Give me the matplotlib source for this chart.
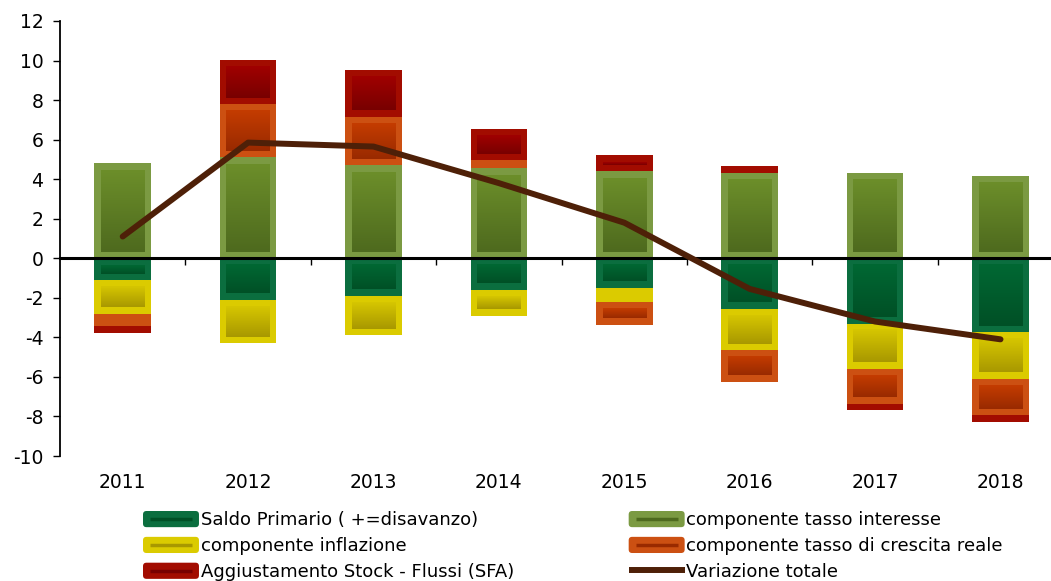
import matplotlib
matplotlib.use("Agg")
import matplotlib.pyplot as plt
import numpy as np
from matplotlib.colors import LinearSegmentedColormap
from matplotlib.patches import Patch, FancyBboxPatch
from matplotlib.lines import Line2D

plt.rcParams['font.family'] = ['DejaVu Sans']

years = ['2011', '2012', '2013', '2014', '2015', '2016', '2017', '2018']
saldo = [-1.1, -2.1, -1.9, -1.6, -1.5, -2.55, -3.3, -3.75]
interesse = [4.8, 5.1, 4.7, 4.55, 4.4, 4.3, 4.3, 4.15]
inflazione = [-1.7, -2.2, -2.0, -1.3, -0.7, -2.1, -2.3, -2.35]
crescita = [-0.65, 2.7, 2.45, 0.4, -1.15, -1.6, -1.75, -1.85]
sfa = [-0.35, 2.25, 2.35, 1.6, 0.8, 0.35, -0.3, -0.33]
totale = [1.1, 5.85, 5.65, 3.8, 1.8, -1.55, -3.2, -4.1]

labels = ['Saldo Primario ( +=disavanzo)', 'componente tasso interesse',
          'componente inflazione', 'componente tasso di crescita reale',
          'Aggiustamento Stock - Flussi (SFA)']
series = [saldo, interesse, inflazione, crescita, sfa]
# (border, inner top, inner bottom)
styles = [('#0B6E3F', '#006833', '#005026'),
          ('#7B9A42', '#6C8E2A', '#4E6A1E'),
          ('#DBCB00', '#D6C600', '#A89800'),
          ('#CC5012', '#C43C00', '#992A00'),
          ('#A20C00', '#A00000', '#780000')]
line_color = '#4E2008'

W, H = 1051, 581
fig = plt.figure(figsize=(W / 100, H / 100), dpi=100)
ax = fig.add_axes([60 / W, 125 / H, 8 * 125.4 / W, 435 / H])
ax.set_xlim(-0.5, 7.5)
ax.set_ylim(-10, 12)

x = np.arange(len(years))
bw = 0.45

# pixel -> data conversions
p0 = ax.transData.transform((0, 0))
p1 = ax.transData.transform((1, 1))
px_x = 1.0 / (p1[0] - p0[0])
px_y = 1.0 / (p1[1] - p0[1])
inset = 6.5

pos = np.zeros(len(years))
neg = np.zeros(len(years))
for vals, (bc, ctop, cbot) in zip(series, styles):
    vals = np.array(vals)
    bottoms = np.where(vals >= 0, pos, neg)
    ax.bar(x, vals, bw, bottom=bottoms, color=bc, linewidth=0, zorder=2)
    cmap = LinearSegmentedColormap.from_list('g', [cbot, ctop])
    grad = np.linspace(1, 0, 64).reshape(-1, 1)
    for xi, b, v in zip(x, bottoms, vals):
        lo, hi = min(b, b + v), max(b, b + v)
        ix0 = xi - bw / 2 + inset * px_x
        ix1 = xi + bw / 2 - inset * px_x
        iy0 = lo + inset * px_y
        iy1 = hi - inset * px_y
        if iy1 - iy0 > 1 * px_y:
            ax.imshow(grad, extent=(ix0, ix1, iy0, iy1), aspect='auto',
                      cmap=cmap, vmin=0, vmax=1, interpolation='bicubic', zorder=3)
    pos = np.where(vals >= 0, pos + vals, pos)
    neg = np.where(vals < 0, neg + vals, neg)

ax.plot(x, totale, color=line_color, lw=4.3, solid_capstyle='round',
        solid_joinstyle='round', zorder=5)

ax.set_xlim(-0.5, 7.5)
ax.set_ylim(-10, 12)

ax.spines['right'].set_visible(False)
ax.spines['bottom'].set_visible(False)
ax.spines['top'].set_position(('data', 0))
ax.spines['top'].set_linewidth(2.2)
ax.spines['top'].set_zorder(4)
ax.spines['left'].set_linewidth(1.3)

ax.set_yticks(np.arange(-10, 13, 2))
ax.set_yticklabels([str(v) for v in range(-10, 13, 2)])
ax.tick_params(axis='y', length=5, width=1, pad=7, labelsize=13.5)

ax.set_xticks(x)
ax.set_xticklabels(years)
ax.set_xticks(np.arange(0.5, 7.5, 1), minor=True)
ax.tick_params(axis='x', which='major', length=0, pad=12, labelsize=13.5,
               top=False, bottom=True)
ax.tick_params(axis='x', which='minor', top=True, bottom=False, direction='in',
               length=5, width=1, labeltop=False, labelbottom=False)


class BoxHandler:
    def __init__(self, border, stripe):
        self.border = border
        self.stripe = stripe

    def legend_artist(self, legend, orig_handle, fontsize, handlebox):
        x0, y0 = handlebox.xdescent, handlebox.ydescent
        w, h = handlebox.width, handlebox.height
        outer = FancyBboxPatch((-x0, -y0), w, h,
                               boxstyle='round,pad=0,rounding_size=2.5',
                               facecolor=self.border, edgecolor='none',
                               transform=handlebox.get_transform())
        stripe = Line2D([-x0 + 5, -x0 + w - 5], [-y0 + h / 2, -y0 + h / 2],
                        color=self.stripe, lw=2.5, solid_capstyle='butt',
                        transform=handlebox.get_transform())
        handlebox.add_artist(outer)
        handlebox.add_artist(stripe)
        return outer


handles = [Patch(facecolor=s[0]) for s in styles]
hmap = {h: BoxHandler(s[0], s[2]) for h, s in zip(handles, styles)}
order = [0, 2, 4, 1, 3]
leg_handles = [handles[i] for i in order] + [
    Line2D([], [], color=line_color, lw=4.3, solid_capstyle='butt')]
leg_labels = [labels[i] for i in order] + ['Variazione totale']
fig.legend(leg_handles, leg_labels, loc='upper left',
           bbox_to_anchor=(143 / W, 1 - 511 / H), ncol=2, frameon=False,
           fontsize=13, handlelength=3.1, handleheight=1.0, handletextpad=0.1,
           columnspacing=6.35, labelspacing=0.42, borderpad=0, borderaxespad=0,
           handler_map=hmap)

fig.savefig('out.png', dpi=100)
